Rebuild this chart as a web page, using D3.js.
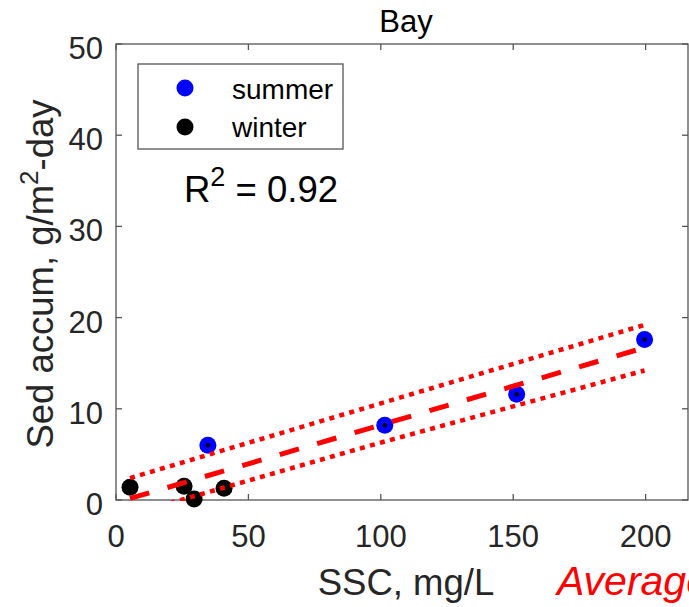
<!DOCTYPE html>
<html>
<head>
<meta charset="utf-8">
<script src="https://cdn.jsdelivr.net/npm/d3@7"></script>
<style>
  html, body { margin: 0; padding: 0; background: #fff; overflow: hidden; }
  svg { display: block; }
  text { font-family: "Liberation Sans", Arial, sans-serif; }
</style>
</head>
<body>
<svg id="chart" width="689" height="607"></svg>
<script>
// data
var summerSSC = [34.7, 101.5, 151.3, 199.6];
var summerSed = [6.0, 8.2, 11.6, 17.6];
var winterSSC = [5.3, 25.7, 29.5, 40.8];
var winterSed = [1.4, 1.5, 0.1, 1.3];

// regression line and its bounds
var fitX = [5.3, 199.6];
var fitY = [0.17, 16.7];
var boundX = [5.3, 100, 199.6];
var upperY = [2.4, 10.6, 19.2];
var lowerY = [-1.6, 6.3, 14.2];

var xTicks = [0, 50, 100, 150, 200];
var yTicks = [0, 10, 20, 30, 40, 50];
var seasons = ["summer", "winter"];
var seasonColors = ["#0000ff", "#000000"];

var svg = d3.select("#chart");

// plot box (note: "top" is taken by window.top)
var boxLeft = 116, boxRight = 688, boxTop = 44, boxBottom = 500;

var x = d3.scaleLinear().domain([0, 216]).range([boxLeft, boxRight]);
var y = d3.scaleLinear().domain([0, 50]).range([boxBottom, boxTop]);

var axisCol = "#555", textCol = "#262626";

svg.append("rect").attr("width", 689).attr("height", 607).attr("fill", "#fff");

// box and ticks (ticks point inward, on all four sides)
var gAxis = svg.append("g");
gAxis.append("rect")
  .attr("x", boxLeft).attr("y", boxTop)
  .attr("width", boxRight - boxLeft).attr("height", boxBottom - boxTop)
  .attr("fill", "none").attr("stroke", axisCol).attr("stroke-width", 1.3);

var tl = 6;
xTicks.forEach(function(t) {
  gAxis.append("line").attr("x1", x(t)).attr("x2", x(t)).attr("y1", boxBottom).attr("y2", boxBottom - tl)
    .attr("stroke", axisCol).attr("stroke-width", 1.3);
  gAxis.append("line").attr("x1", x(t)).attr("x2", x(t)).attr("y1", boxTop).attr("y2", boxTop + tl)
    .attr("stroke", axisCol).attr("stroke-width", 1.3);
  gAxis.append("text").attr("x", x(t)).attr("y", 547)
    .attr("text-anchor", "middle").attr("font-size", 31).attr("fill", textCol).text(t);
});
yTicks.forEach(function(t) {
  gAxis.append("line").attr("x1", boxLeft).attr("x2", boxLeft + tl).attr("y1", y(t)).attr("y2", y(t))
    .attr("stroke", axisCol).attr("stroke-width", 1.3);
  gAxis.append("line").attr("x1", boxRight).attr("x2", boxRight - tl).attr("y1", y(t)).attr("y2", y(t))
    .attr("stroke", axisCol).attr("stroke-width", 1.3);
  gAxis.append("text").attr("x", 103).attr("y", y(t) + 15)
    .attr("text-anchor", "end").attr("font-size", 31).attr("fill", textCol).text(t);
});

// axis labels and title
svg.append("text").attr("x", 406).attr("y", 32).attr("text-anchor", "middle")
  .attr("font-size", 31).attr("fill", "#000").text("Bay");

svg.append("text").attr("x", 406).attr("y", 595).attr("text-anchor", "middle")
  .attr("font-size", 36.5).attr("fill", textCol).text("SSC, mg/L");

var ylab = svg.append("text")
  .attr("transform", "translate(53," + ((boxTop + boxBottom) / 2 + 2) + ") rotate(-90)")
  .attr("text-anchor", "middle").attr("font-size", 36.5).attr("fill", textCol);
ylab.append("tspan").text("Sed accum, g/m");
ylab.append("tspan").attr("dy", -15).attr("font-size", 26).text("2");
ylab.append("tspan").attr("dy", 15).text("-day");

svg.append("text").attr("x", 557).attr("y", 595)
  .attr("font-family", "'Open Sans', sans-serif").attr("font-style", "italic")
  .attr("font-size", 41).attr("fill", "#ff0000").text("Average");

// markers
var summer = summerSSC.map(function(v, i) { return [v, summerSed[i]]; });
var winter = winterSSC.map(function(v, i) { return [v, winterSed[i]]; });

svg.append("g").selectAll("circle").data(summer).enter().append("circle")
  .attr("cx", function(d) { return x(d[0]); })
  .attr("cy", function(d) { return y(d[1]); })
  .attr("r", 8.5).attr("fill", seasonColors[0]);
svg.append("g").selectAll("circle").data(winter).enter().append("circle")
  .attr("cx", function(d) { return x(d[0]); })
  .attr("cy", function(d) { return y(d[1]); })
  .attr("r", 8.5).attr("fill", seasonColors[1]);
svg.append("g").selectAll("circle").data(summer).enter().append("circle")
  .attr("cx", function(d) { return x(d[0]); })
  .attr("cy", function(d) { return y(d[1]); })
  .attr("r", 2.2).attr("fill", "#000");

// fit lines, clipped to the axes
svg.append("clipPath").attr("id", "plotclip").append("rect")
  .attr("x", boxLeft).attr("y", boxTop).attr("width", boxRight - boxLeft).attr("height", boxBottom - boxTop + 1);

var line = d3.line().x(function(d) { return x(d[0]); }).y(function(d) { return y(d[1]); });
var gLines = svg.append("g").attr("clip-path", "url(#plotclip)");

gLines.append("path")
  .attr("d", line(boundX.map(function(v, i) { return [v, upperY[i]]; })))
  .attr("fill", "none").attr("stroke", "#ff0000").attr("stroke-width", 4.5)
  .attr("stroke-dasharray", "5,5.4");
gLines.append("path")
  .attr("d", line(boundX.map(function(v, i) { return [v, lowerY[i]]; })))
  .attr("fill", "none").attr("stroke", "#ff0000").attr("stroke-width", 4.5)
  .attr("stroke-dasharray", "5,5.4");
gLines.append("path")
  .attr("d", line(fitX.map(function(v, i) { return [v, fitY[i]]; })))
  .attr("fill", "none").attr("stroke", "#ff0000").attr("stroke-width", 5)
  .attr("stroke-dasharray", "20,19");

// legend
var lg = svg.append("g");
lg.append("rect").attr("x", 138).attr("y", 64).attr("width", 205).attr("height", 85)
  .attr("fill", "#fff").attr("stroke", axisCol).attr("stroke-width", 1.3);
seasons.forEach(function(s, i) {
  lg.append("circle").attr("cx", 185).attr("cy", 88 + i * 39).attr("r", 8.5).attr("fill", seasonColors[i]);
  lg.append("text").attr("x", 232).attr("y", 99 + i * 38)
    .attr("font-size", 28).attr("fill", "#000").text(s);
});

// R squared
var r2 = svg.append("text").attr("x", 184).attr("y", 202).attr("font-size", 36.5).attr("fill", "#000");
r2.append("tspan").text("R");
r2.append("tspan").attr("dy", -16).attr("font-size", 27).text("2");
r2.append("tspan").attr("dy", 16).text(" = 0.92");
</script>
</body>
</html>
